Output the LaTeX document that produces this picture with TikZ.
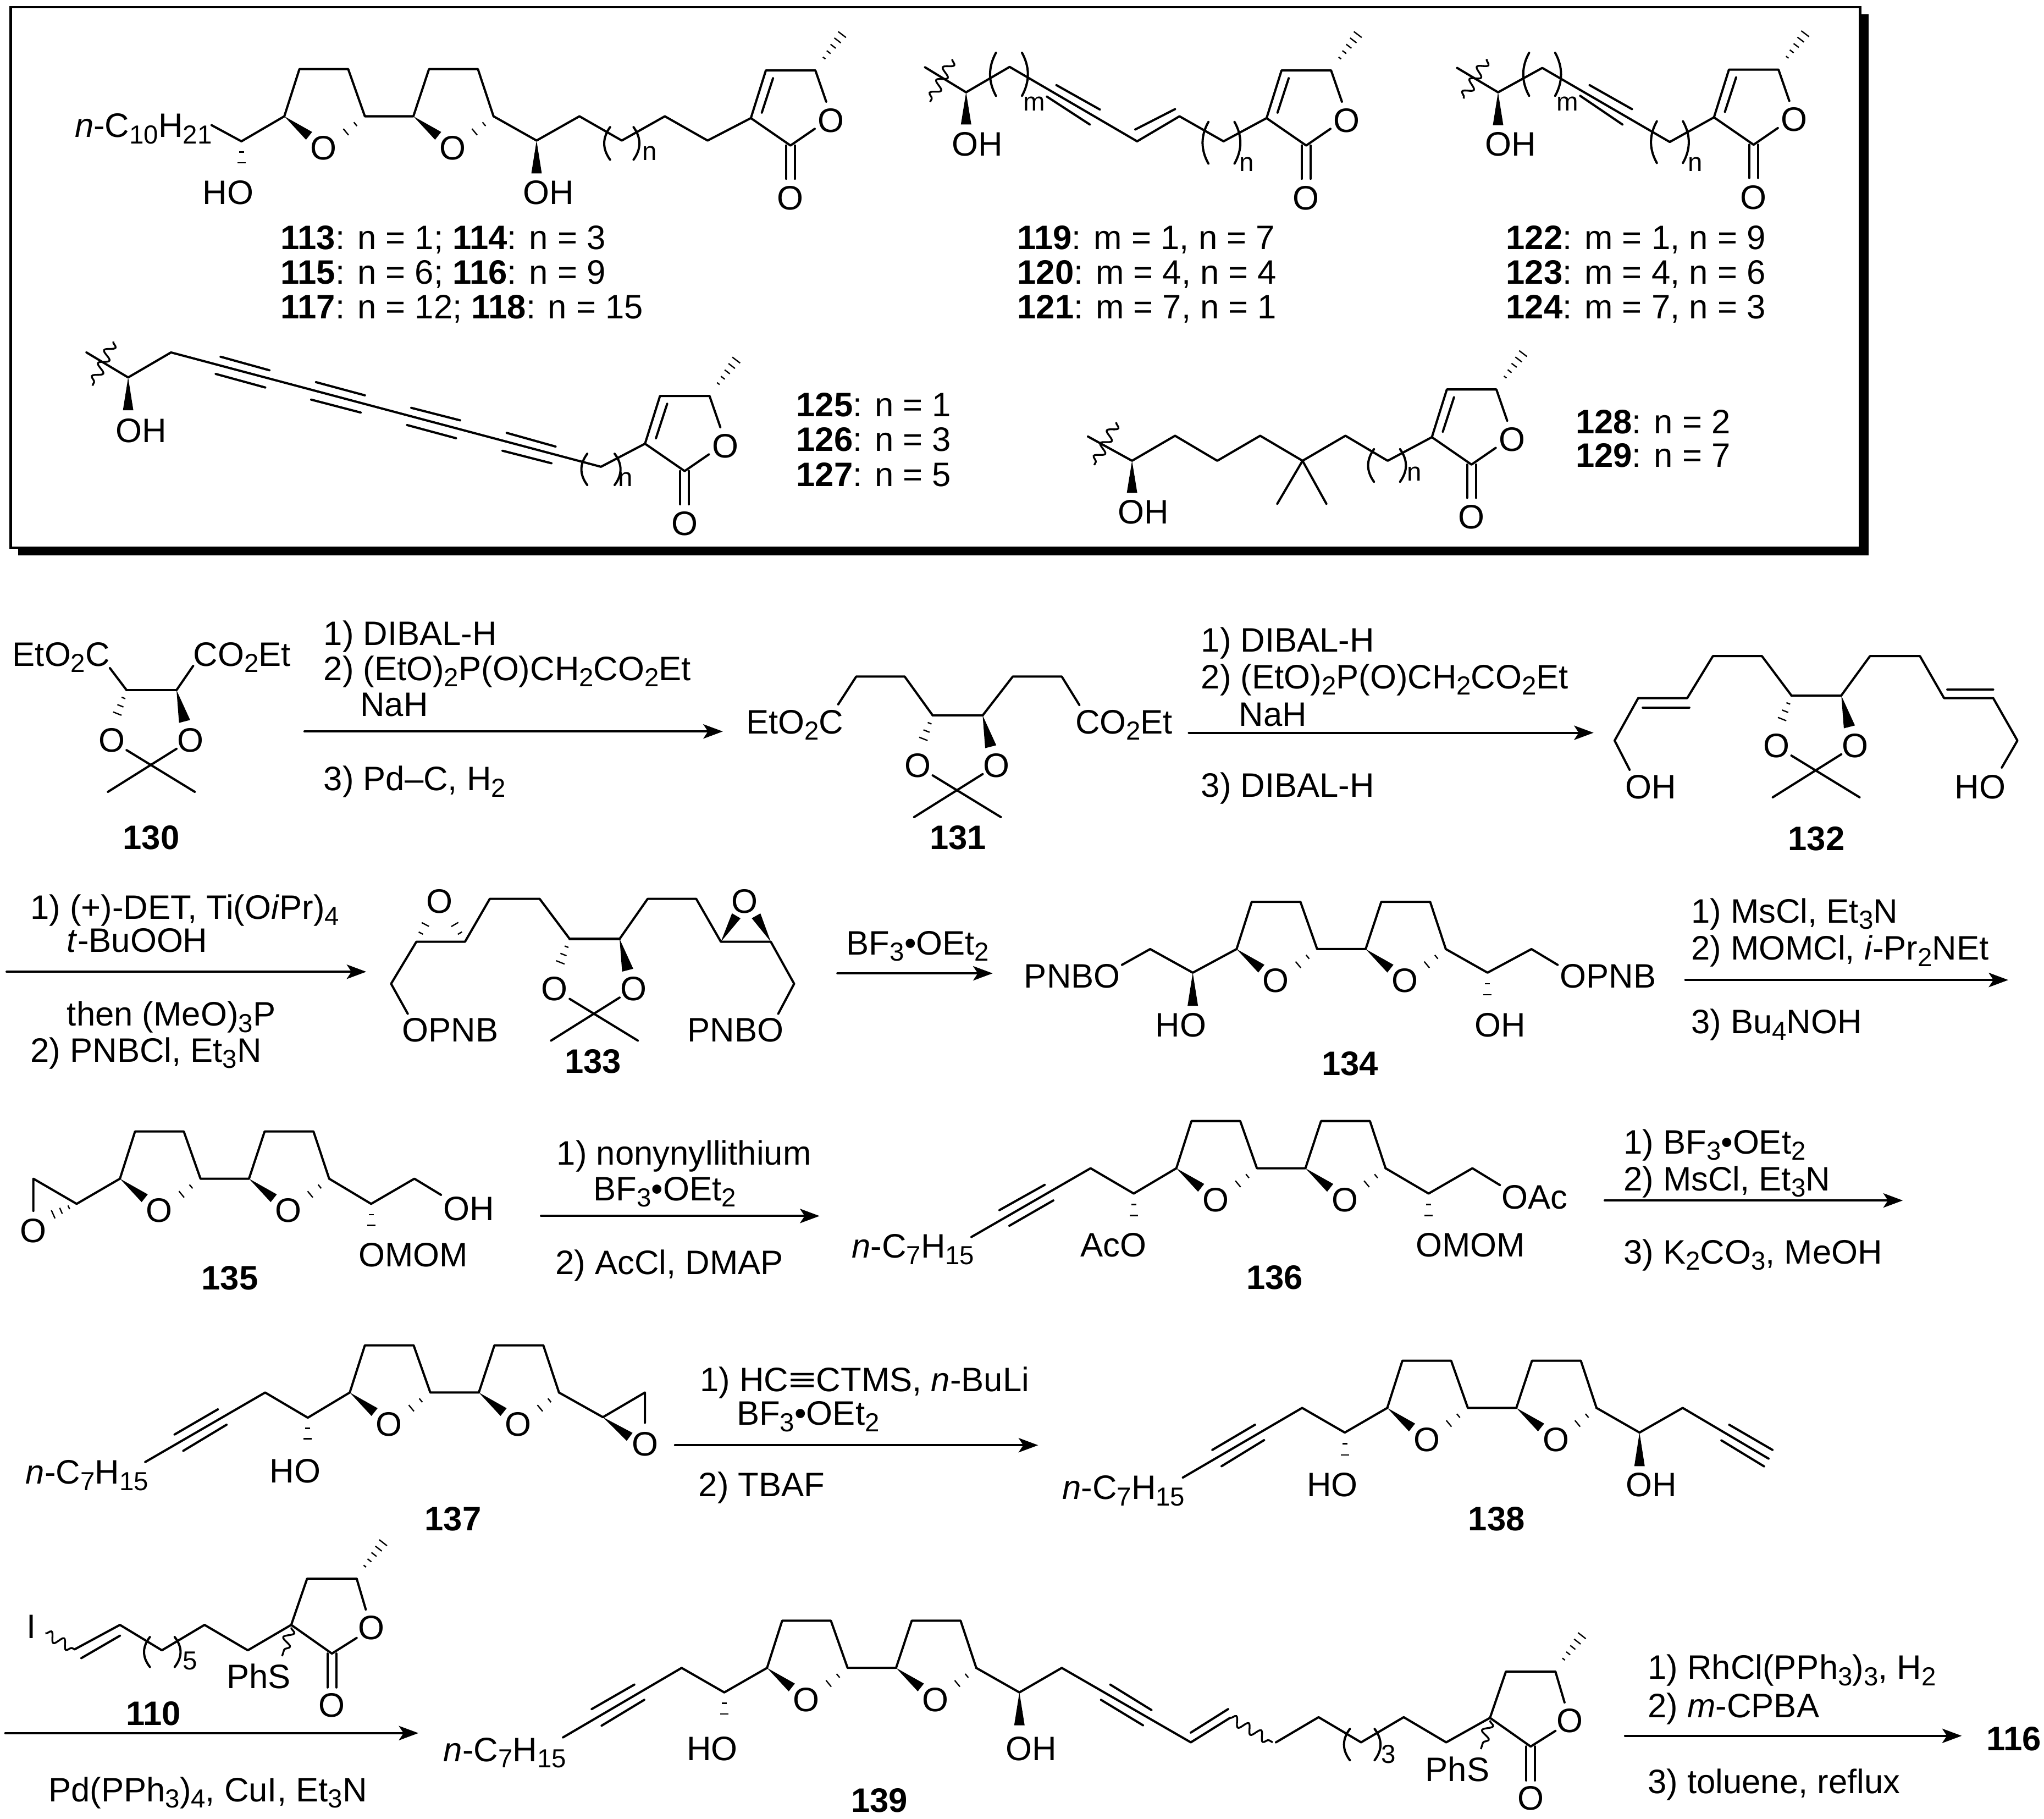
\documentclass[tikz,border=0pt]{standalone}
\usepackage{fontspec}
\setmainfont{Liberation Sans}
\usetikzlibrary{arrows.meta, calc, decorations.pathmorphing}

\newcommand{\lo}[1]{\raisebox{-2.4pt}{\fontsize{10}{10}\selectfont #1}}

\tikzset{
    bond/.style={line width=0.85pt, line join=round, line cap=round},
    thinbond/.style={line width=0.5pt},
    wave/.style={line width=0.7pt, decorate, decoration={snake, segment length=5.5pt, amplitude=1.8pt}},
    rxn/.style={bond, -{Stealth[length=7.5pt, width=5.5pt, inset=1.8pt]}},
    atom/.style={inner sep=0pt, anchor=base, yshift=-4.65pt, font=\fontsize{13}{15}\selectfont},
    rgt/.style={atom, anchor=base west},
    idx/.style={inner sep=0pt, font=\fontsize{10}{10}\selectfont},
    cpd/.style={atom, font=\fontsize{13}{15}\selectfont\bfseries},
}

\begin{document}
\begin{tikzpicture}[x=0.5pt, y=-0.5pt]

    \useasboundingbox (0,0) rectangle (1568,1395);

    % --- Bond helpers ---
    \def\HashBond#1#2#3{%
        \foreach \i in {1,...,#3}{%
            \pgfmathsetmacro{\hashpos}{\i/#3}%
            \pgfmathsetmacro{\hashw}{0.3 + 1.9*\i/#3}%
            \draw[thinbond] ($#1!\hashpos!#2!\hashw pt!90:#2$) -- ($#1!\hashpos!#2!\hashw pt!-90:#2$);
        }%
    }
    \def\WedgeBond#1#2#3{\fill #1 -- ($#2!#3!90:#1$) -- ($#2!#3!-90:#1$) -- cycle;}
    \def\WaveBond#1#2{\draw[wave] #1 -- #2;}
    \def\Parens#1#2#3#4{%
        \draw[bond] ({#1-#3},{#2-#4}) .. controls ({#1-#3-6},{#2-#4/3}) and ({#1-#3-6},{#2+#4/3}) .. ({#1-#3},{#2+#4});
        \draw[bond] ({#1+#3},{#2-#4}) .. controls ({#1+#3+6},{#2-#4/3}) and ({#1+#3+6},{#2+#4/3}) .. ({#1+#3},{#2+#4});
    }

    % --- Butenolide, origin at the ring carbon with the chain ---
    \def\Butenolide#1#2#3{%
        \begin{scope}[shift={(#2,#3)}]
            \draw[bond] (0,0) -- (11.5,-36.6) -- (49.5,-36.6) -- (57.8,-12.6);
            \draw[bond] (17,-30.6) -- (8.4,-4.2);
            \draw[bond] (0,0) -- (30.4,21) -- (49,8.2);
            \draw[bond] (27,21) -- (27,46.5);
            \draw[bond] (33.8,21) -- (33.8,46.5);
            \HashBond{(52.8,-41.6)}{(73.4,-68.6)}{6}
            \node[atom] (#1ringO) at (61.5,1.5) {O};
            \node[atom] (#1ketoO) at (30.4,61) {O};
        \end{scope}
    }

    % --- Thioether lactone, origin at the quaternary carbon ---
    \def\ThioLactone#1#2#3{%
        \begin{scope}[shift={(#2,#3)}]
            \draw[bond] (0,0) -- (12.2,-35.5) -- (50.2,-35.5) -- (57.2,-11.8);
            \draw[bond] (0,0) -- (31.2,22) -- (50.2,10);
            \draw[bond] (27.8,22) -- (27.8,48);
            \draw[bond] (34.6,22) -- (34.6,48);
            \HashBond{(53,-40.5)}{(74,-67.5)}{6}
            \WaveBond{(0,2)}{(-7,24)}
            \node[atom] (#1ringO) at (61.4,2) {O};
            \node[atom] (#1ketoO) at (31.2,61.5) {O};
            \node[atom] (#1phs) at (-25,39.4) {PhS};
        \end{scope}
    }

    % --- Two linked oxolane rings, origin at the left ring carbon ---
    \def\BisOxolane#1#2#3{%
        \begin{scope}[shift={(#2,#3)}]
            \draw[bond] (0,0) -- (11.6,-36.2) -- (49,-36.2) -- (61.8,0) -- (99,0)
                -- (111,-36.2) -- (148.5,-36.2) -- (160.5,0);
            \WedgeBond{(0,0)}{(19,15)}{1.9pt}
            \WedgeBond{(99,0)}{(118,15)}{1.9pt}
            \HashBond{(61.8,0)}{(40,18)}{3}
            \HashBond{(160.5,0)}{(138.7,18)}{3}
            \node[atom] (#1Oa) at (30.2,24) {O};
            \node[atom] (#1Ob) at (129.3,24) {O};
        \end{scope}
    }

    % --- Acetonide, origin at the left ring carbon ---
    \def\Acetonide#1#2#3{%
        \begin{scope}[shift={(#2,#3)}]
            \draw[bond] (0,0) -- (38.3,0);
            \HashBond{(0,0)}{(-9.5,24)}{4}
            \WedgeBond{(38.3,0)}{(44.5,24)}{2.2pt}
            \node[atom] (#1Oa) at (-11.5,38) {O};
            \node[atom] (#1Ob) at (49,38) {O};
            \draw[bond] (0,46) -- (52.3,78);
            \draw[bond] (38.3,45) -- (-14.3,78);
        \end{scope}
    }

    % --- Frame with shadow ---
    \fill[black] (14,11) rectangle (1433.5,426);
    \draw[line width=1pt, fill=white] (8.2,5.5) rectangle (1427,420);

    % --- 113-118 ---
    \node[rgt] (chain113) at (57,96) {\textit{n}-C\lo{10}H\lo{21}};
    \draw[bond] (162.3,96) -- (185.2,108.4) -- (218.1,89.2);
    \BisOxolane{m113}{218.1}{89.2}
    \draw[bond] (378.6,89.2) -- (411.6,107.8) -- (444.5,89.2) -- (477,107.8) -- (510,89.2) -- (542.8,107.8) -- (576,90.6);
    \HashBond{(185.2,108.4)}{(185.2,133)}{3}
    \WedgeBond{(411.6,107.8)}{(411.6,133)}{2pt}
    \node[atom] (ho113) at (175,147.4) {HO};
    \node[atom] (oh113) at (420.7,147.4) {OH};
    \Parens{477}{110}{9}{12.5}
    \node[idx] (n113) at (498.5,117.5) {n};
    \Butenolide{m113}{576}{90.6}
    \node[rgt] (lab113) at (215,182) {\textbf{113}: n = 1; \textbf{114}: n = 3};
    \node[rgt] (lab115) at (215,208.5) {\textbf{115}: n = 6; \textbf{116}: n = 9};
    \node[rgt] (lab117) at (215,235.2) {\textbf{117}: n = 12; \textbf{118}: n = 15};

    % --- 119-121 ---
    \WaveBond{(730.5,45.3)}{(713.5,78.2)}
    \draw[bond] (709.6,51.6) -- (741.1,70.8) -- (774.5,51.3) -- (872.3,108.4) -- (904.8,89.2) -- (938.6,108.4) -- (971.6,90.6);
    \draw[bond] (810.4,65.3) -- (843.7,84);
    \draw[bond] (803.1,74.1) -- (836,95.5);
    \draw[bond] (870.9,99.3) -- (901.4,83.7);
    \WedgeBond{(741.1,70.8)}{(741.1,95.5)}{2pt}
    \node[atom] (oh119) at (749.8,110.3) {OH};
    \Parens{774}{57}{10}{16.5}
    \Parens{937}{109.5}{10}{16}
    \node[idx] (m119) at (793.4,79.6) {m};
    \node[idx] (n119) at (956.5,126.2) {n};
    \Butenolide{m119}{971.6}{90.6}
    \node[rgt] (lab119) at (780,182) {\textbf{119}: m = 1, n = 7};
    \node[rgt] (lab120) at (780,208.5) {\textbf{120}: m = 4, n = 4};
    \node[rgt] (lab121) at (780,235.2) {\textbf{121}: m = 7, n = 1};

    % --- 122-124 ---
    \WaveBond{(1140.5,45.3)}{(1122.6,75.5)}
    \draw[bond] (1117.8,52.1) -- (1149.2,70.8) -- (1183.1,52.1) -- (1280.9,108.9) -- (1314.8,90);
    \draw[bond] (1219.4,65.3) -- (1251.9,83.7);
    \draw[bond] (1212.2,73.5) -- (1244.6,95.5);
    \WedgeBond{(1149.2,70.8)}{(1149.2,96)}{2pt}
    \node[atom] (oh122) at (1158.9,110.3) {OH};
    \Parens{1183}{57}{10}{16.5}
    \Parens{1281}{109}{10}{16}
    \node[idx] (m122) at (1202.5,79.6) {m};
    \node[idx] (n122) at (1300.3,126.2) {n};
    \Butenolide{m122}{1314.8}{90}
    \node[rgt] (lab122) at (1155,182) {\textbf{122}: m = 1, n = 9};
    \node[rgt] (lab123) at (1155,208.5) {\textbf{123}: m = 4, n = 6};
    \node[rgt] (lab124) at (1155,235.2) {\textbf{124}: m = 7, n = 3};

    % --- 125-127 ---
    \WaveBond{(86.9,262)}{(70.9,295.8)}
    \draw[bond] (66.3,270.3) -- (98.3,289.5) -- (131.2,270.3) -- (461,358) -- (494.8,340.3);
    \draw[bond] (169.2,273.6) -- (206.7,284);
    \draw[bond] (165.5,286.8) -- (203.5,297.2);
    \draw[bond] (242.4,293.1) -- (279.9,303.2);
    \draw[bond] (238.7,306.5) -- (276.7,316.4);
    \draw[bond] (315.5,312.8) -- (353,322.4);
    \draw[bond] (312.3,326) -- (349.8,336.1);
    \draw[bond] (388.7,332) -- (426.2,342.5);
    \draw[bond] (385.5,345.7) -- (423,355.3);
    \WedgeBond{(98.3,289.5)}{(98.3,314.7)}{2pt}
    \node[atom] (oh125) at (108.4,330) {OH};
    \Parens{461}{360}{10.5}{12}
    \node[idx] (n125) at (480,367.7) {n};
    \Butenolide{m125}{494.8}{340.3}
    \node[rgt] (lab125) at (610.5,310) {\textbf{125}: n = 1};
    \node[rgt] (lab126) at (610.5,336.7) {\textbf{126}: n = 3};
    \node[rgt] (lab127) at (610.5,363.6) {\textbf{127}: n = 5};

    % --- 128, 129 ---
    \WaveBond{(856.3,323.8)}{(839.4,356.7)}
    \draw[bond] (834.6,334.8) -- (868.4,353.4) -- (901.4,334.2) -- (933.8,353.4) -- (966.7,334.2) -- (999.2,353.4) -- (1032.1,334.2) -- (1064.5,353.4) -- (1098.4,335.3);
    \draw[bond] (979.8,386.4) -- (999.2,353.4) -- (1017.5,386.4);
    \WedgeBond{(868.4,353.4)}{(868.4,378)}{2pt}
    \node[atom] (oh128) at (877.2,392.4) {OH};
    \Parens{1064}{357}{10}{12.5}
    \node[idx] (n128) at (1084.8,363.6) {n};
    \Butenolide{m128}{1098.4}{335.3}
    \node[rgt] (lab128) at (1208.3,323.2) {\textbf{128}: n = 2};
    \node[rgt] (lab129) at (1208.3,349) {\textbf{129}: n = 7};

    % --- 130 ---
    \node[rgt] (est130a) at (9.2,501.5) {EtO\lo{2}C};
    \node[rgt] (est130b) at (148,501.5) {CO\lo{2}Et};
    \draw[bond] (84.3,512.4) -- (97.1,529.3);
    \draw[bond] (135.4,529.3) -- (148.2,510.7);
    \Acetonide{m130}{97.1}{529.3}
    \node[cpd] (lab130) at (116,642) {130};

    % --- Step to 131 ---
    \coordinate (a1s) at (233.6,561);
    \coordinate (a1e) at (554.5,561);
    \draw[rxn] (a1s) -- (a1e);
    \node[rgt] (r1a) at (247.9,485.8) {1) DIBAL-H};
    \node[rgt] (r1b) at (247.9,512.4) {2) (EtO)\lo{2}P(O)CH\lo{2}CO\lo{2}Et};
    \node[rgt] (r1c) at (276,540.2) {NaH};
    \node[rgt] (r1d) at (247.9,597.1) {3) Pd–C, H\lo{2}};

    % --- 131 ---
    \node[rgt] (est131a) at (572,553.5) {EtO\lo{2}C};
    \node[rgt] (est131b) at (824.5,553.5) {CO\lo{2}Et};
    \draw[bond] (643,540.2) -- (656.8,518.9) -- (694,518.9) -- (715.5,548.7);
    \draw[bond] (753.8,548.7) -- (776.9,518.9) -- (814.5,518.9) -- (828,540.7);
    \Acetonide{m131}{715.5}{548.7}
    \node[cpd] (lab131) at (735,642) {131};

    % --- Step to 132 ---
    \coordinate (a2s) at (912,562);
    \coordinate (a2e) at (1222.5,562);
    \draw[rxn] (a2s) -- (a2e);
    \node[rgt] (r2a) at (921,490.6) {1) DIBAL-H};
    \node[rgt] (r2b) at (921,518.9) {2) (EtO)\lo{2}P(O)CH\lo{2}CO\lo{2}Et};
    \node[rgt] (r2c) at (950,547.5) {NaH};
    \node[rgt] (r2d) at (921,602) {3) DIBAL-H};

    % --- 132 ---
    \Acetonide{m132}{1374.2}{533.5}
    \draw[bond] (1374.3,533.5) -- (1351.6,503.2) -- (1314,503.2) -- (1294.3,535.4) -- (1256.7,535.4) -- (1238.6,568) -- (1250.1,590.4);
    \draw[bond] (1260.2,542.7) -- (1295.9,542.7);
    \draw[bond] (1412.4,533.5) -- (1434.5,503.2) -- (1472.8,503.2) -- (1491.3,535.4) -- (1529,535.4) -- (1547.6,568) -- (1535.6,588.7);
    \draw[bond] (1493.8,528.9) -- (1529,528.9);
    \node[atom] (oh132) at (1266.2,603.2) {OH};
    \node[atom] (ho132) at (1519,603.2) {HO};
    \node[cpd] (lab132) at (1393.4,643.1) {132};

    % --- Step to 133 ---
    \coordinate (a3s) at (5.1,745.3);
    \coordinate (a3e) at (281,745.3);
    \draw[rxn] (a3s) -- (a3e);
    \node[rgt] (r3a) at (23,695.5) {1) (+)-DET, Ti(O\textit{i}Pr)\lo{4}};
    \node[rgt] (r3b) at (51,721) {\textit{t}-BuOOH};
    \node[rgt] (r3c) at (51,777.5) {then (MeO)\lo{3}P};
    \node[rgt] (r3d) at (23,805.3) {2) PNBCl, Et\lo{3}N};

    % --- 133 ---
    \Acetonide{m133}{437}{720.1}
    \draw[bond] (437,720.1) -- (414,689.4) -- (375.7,689.4) -- (356.7,722.3) -- (319.4,722.3) -- (300,754.5) -- (312.8,777.5);
    \draw[bond] (475.3,720.1) -- (496.8,689.4) -- (534.1,689.4) -- (553,722.3) -- (591.3,722.3) -- (609.2,754.5) -- (597,777.5);
    \HashBond{(319.4,722.3)}{(329.7,702.4)}{3}
    \HashBond{(356.7,722.3)}{(345,702.4)}{3}
    \WedgeBond{(553,722.3)}{(564.8,702.4)}{1.9pt}
    \WedgeBond{(591.3,722.3)}{(580,702.4)}{1.9pt}
    \node[atom] (epoxa133) at (337.3,691) {O};
    \node[atom] (epoxb133) at (571.4,691) {O};
    \node[atom] (opnb133) at (345.5,789.6) {OPNB};
    \node[atom] (pnbo133) at (564.2,789.6) {PNBO};
    \node[cpd] (lab133) at (454.9,813.8) {133};

    % --- Step to 134 ---
    \coordinate (a4s) at (642.4,746.5);
    \coordinate (a4e) at (761.5,746.5);
    \draw[rxn] (a4s) -- (a4e);
    \node[rgt] (r4a) at (649,723) {BF\lo{3}•OEt\lo{2}};

    % --- 134 ---
    \node[atom] (pnbo134) at (822.5,748.4) {PNBO};
    \node[atom] (opnb134) at (1233.6,748.4) {OPNB};
    \draw[bond] (860.7,740) -- (882.3,727.9) -- (915,746) -- (948.6,727.9);
    \BisOxolane{m134}{948.6}{727.9}
    \draw[bond] (1109.1,727.9) -- (1141.1,746) -- (1174.8,727.9) -- (1194.9,740);
    \WedgeBond{(915,746)}{(915,771.4)}{2pt}
    \HashBond{(1141.1,746)}{(1141.1,771.4)}{3}
    \node[atom] (ho134) at (905.9,786) {HO};
    \node[atom] (oh134) at (1150.6,786) {OH};
    \node[cpd] (lab134) at (1035.6,815.5) {134};

    % --- Step to 135 ---
    \coordinate (a5s) at (1292.9,751.6);
    \coordinate (a5e) at (1540.6,751.6);
    \draw[rxn] (a5s) -- (a5e);
    \node[rgt] (r5a) at (1296.9,698.5) {1) MsCl, Et\lo{3}N};
    \node[rgt] (r5b) at (1296.9,727) {2) MOMCl, \textit{i}-Pr\lo{2}NEt};
    \node[rgt] (r5c) at (1296.9,783.5) {3) Bu\lo{4}NOH};

    % --- 135 ---
    \node[atom] (epox135) at (25.6,943.8) {O};
    \draw[bond] (25.6,928.7) -- (25.6,904) -- (58.8,923.3) -- (92,904);
    \HashBond{(58.8,923.3)}{(34.8,934)}{4}
    \BisOxolane{m135}{92}{904}
    \draw[bond] (252.5,904) -- (284.7,923.3) -- (317.9,904) -- (338.3,916.4);
    \HashBond{(284.7,923.3)}{(284.7,948)}{3}
    \node[atom] (oh135) at (359.8,926.6) {OH};
    \node[atom] (mom135) at (316.9,962) {OMOM};
    \node[cpd] (lab135) at (176.3,979.7) {135};

    % --- Step to 136 ---
    \coordinate (a6s) at (415,932.6);
    \coordinate (a6e) at (628.7,932.6);
    \draw[rxn] (a6s) -- (a6e);
    \node[rgt] (r6a) at (426.8,884.2) {1) nonynyllithium};
    \node[rgt] (r6b) at (454.9,911.5) {BF\lo{3}•OEt\lo{2}};
    \node[rgt] (r6c) at (425.7,968.1) {2) AcCl, DMAP};

    % --- 136 ---
    \node[rgt] (chain136) at (653,955.6) {\textit{n}-C\lo{7}H\lo{15}};
    \draw[bond] (745.2,948.7) -- (836.6,896) -- (869.7,915.4) -- (902.4,896);
    \draw[bond] (766.7,928.1) -- (801.4,908.7);
    \draw[bond] (774.3,940.1) -- (808,920.7);
    \BisOxolane{m136}{902.4}{896}
    \draw[bond] (1062.9,896) -- (1095.9,915.4) -- (1129.5,896) -- (1150.6,908.9);
    \HashBond{(869.7,915.4)}{(869.7,940.6)}{3}
    \HashBond{(1095.9,915.4)}{(1095.9,940.6)}{3}
    \node[atom] (oac136) at (1177.3,917.9) {OAc};
    \node[atom] (aco136) at (854.2,954.5) {AcO};
    \node[atom] (mom136) at (1128,954.5) {OMOM};
    \node[cpd] (lab136) at (977.8,979.3) {136};

    % --- Step to 137 ---
    \coordinate (a7s) at (1231,920.7);
    \coordinate (a7e) at (1459.7,920.7);
    \draw[rxn] (a7s) -- (a7e);
    \node[rgt] (r7a) at (1245.1,875.5) {1) BF\lo{3}•OEt\lo{2}};
    \node[rgt] (r7b) at (1245.1,904) {2) MsCl, Et\lo{3}N};
    \node[rgt] (r7c) at (1245.1,959.9) {3) K\lo{2}CO\lo{3}, MeOH};

    % --- 137 ---
    \node[rgt] (chain137) at (19.4,1128.9) {\textit{n}-C\lo{7}H\lo{15}};
    \draw[bond] (111.4,1121.3) -- (203.4,1068) -- (236.1,1087.3) -- (268.3,1068);
    \draw[bond] (133.9,1100.2) -- (167.1,1080.9);
    \draw[bond] (140.6,1112.7) -- (173.8,1092.7);
    \BisOxolane{m137}{268.3}{1068}
    \draw[bond] (428.8,1068) -- (462.5,1086.9) -- (494.7,1068) -- (494.7,1091.2);
    \WedgeBond{(462.5,1086.9)}{(483,1102)}{1.9pt}
    \HashBond{(236.1,1087.3)}{(236.1,1111.6)}{3}
    \node[atom] (epox137) at (494.7,1107.3) {O};
    \node[atom] (ho137) at (226.4,1127.8) {HO};
    \node[cpd] (lab137) at (347.5,1164.4) {137};

    % --- Step to 138 ---
    \coordinate (a8s) at (517.8,1108.4);
    \coordinate (a8e) at (796.4,1108.4);
    \draw[rxn] (a8s) -- (a8e);
    \node[rgt] (r8a) at (536.7,1057.8) {1) HC\scalebox{1.4}[1]{≡}CTMS, \textit{n}-BuLi};
    \node[rgt] (r8b) at (564.8,1083.7) {BF\lo{3}•OEt\lo{2}};
    \node[rgt] (r8c) at (535.6,1138.5) {2) TBAF};

    % --- 138 ---
    \node[rgt] (chain138) at (814.5,1140.7) {\textit{n}-C\lo{7}H\lo{15}};
    \draw[bond] (907.4,1133.2) -- (998.9,1079.8) -- (1031.6,1098.7) -- (1064.2,1079.8);
    \draw[bond] (930,1112) -- (962.7,1092.7);
    \draw[bond] (937.1,1124.5) -- (969.7,1104.5);
    \BisOxolane{m138}{1064.2}{1079.8}
    \draw[bond] (1224.7,1079.8) -- (1257.7,1098.7) -- (1290.8,1079.8) -- (1356.7,1118.7);
    \draw[bond] (1326.5,1092.7) -- (1359.7,1112);
    \draw[bond] (1320.5,1104.7) -- (1353.2,1124.6);
    \HashBond{(1031.6,1098.7)}{(1031.6,1124.5)}{3}
    \WedgeBond{(1257.7,1098.7)}{(1257.7,1124.5)}{2pt}
    \node[atom] (ho138) at (1022,1138.5) {HO};
    \node[atom] (oh138) at (1266.7,1138.5) {OH};
    \node[cpd] (lab138) at (1148.1,1164.4) {138};

    % --- 110 over the arrow ---
    \node[atom] (iodo110) at (24,1247.4) {I};
    \WaveBond{(34.8,1252.7)}{(57.2,1265)}
    \draw[bond] (57.2,1265) -- (92,1246.2) -- (124.2,1265.7) -- (156.9,1246.2) -- (190.1,1265.7) -- (223.4,1246.2);
    \draw[bond] (62.4,1271.7) -- (92,1254.5);
    \Parens{124.5}{1267}{9.5}{11.5}
    \node[idx] (five110) at (145.7,1274) {5};
    \ThioLactone{m110}{223.4}{1246.2}
    \node[cpd] (lab110) at (117.6,1313.8) {110};

    % --- Step to 139 ---
    \coordinate (a9s) at (4.1,1329.2);
    \coordinate (a9e) at (321,1329.2);
    \draw[rxn] (a9s) -- (a9e);
    \node[rgt] (r9a) at (36.8,1372.3) {Pd(PPh\lo{3})\lo{4}, CuI, Et\lo{3}N};

    % --- 139 ---
    \node[rgt] (chain139) at (339.9,1341.5) {\textit{n}-C\lo{7}H\lo{15}};
    \draw[bond] (431.9,1332.5) -- (522.9,1279.2) -- (555.6,1298) -- (588.4,1279.2);
    \draw[bond] (453.9,1310.8) -- (486.6,1292);
    \draw[bond] (461.5,1323.5) -- (494.2,1303.7);
    \BisOxolane{m139}{588.4}{1279.2}
    \draw[bond] (748.9,1279.2) -- (782,1298) -- (814.5,1279.2) -- (913.5,1336.3) -- (943.6,1317.5);
    \draw[bond] (851.7,1292) -- (883.3,1311.5);
    \draw[bond] (844.6,1303.7) -- (876.8,1323.2);
    \draw[bond] (913.5,1328.8) -- (942.1,1310.8);
    \WaveBond{(943.6,1317.5)}{(976.3,1336.3)}
    \draw[bond] (978.8,1336.3) -- (1011.5,1317) -- (1044.1,1336.3) -- (1076.8,1317) -- (1109.4,1336.3) -- (1143,1317.5);
    \Parens{1045}{1338}{9.5}{12}
    \node[idx] (three139) at (1065.2,1345.3) {3};
    \HashBond{(555.6,1298)}{(555.6,1322.8)}{3}
    \WedgeBond{(782,1298)}{(782,1323.2)}{2pt}
    \node[atom] (ho139) at (546.4,1340.8) {HO};
    \node[atom] (oh139) at (791,1340.8) {OH};
    \ThioLactone{m139}{1143}{1317.5}
    \node[cpd] (lab139) at (674.6,1380.5) {139};

    % --- Step to 116 ---
    \coordinate (a10s) at (1246.6,1331.3);
    \coordinate (a10e) at (1504.9,1331.3);
    \draw[rxn] (a10s) -- (a10e);
    \node[rgt] (r10a) at (1263.7,1278.5) {1) RhCl(PPh\lo{3})\lo{3}, H\lo{2}};
    \node[rgt] (r10b) at (1263.7,1307.8) {2) \textit{m}-CPBA};
    \node[rgt] (r10c) at (1263.7,1366.3) {3) toluene, reflux};
    \node[cpd] (lab116) at (1545,1333.3) {116};

\end{tikzpicture}
\end{document}
